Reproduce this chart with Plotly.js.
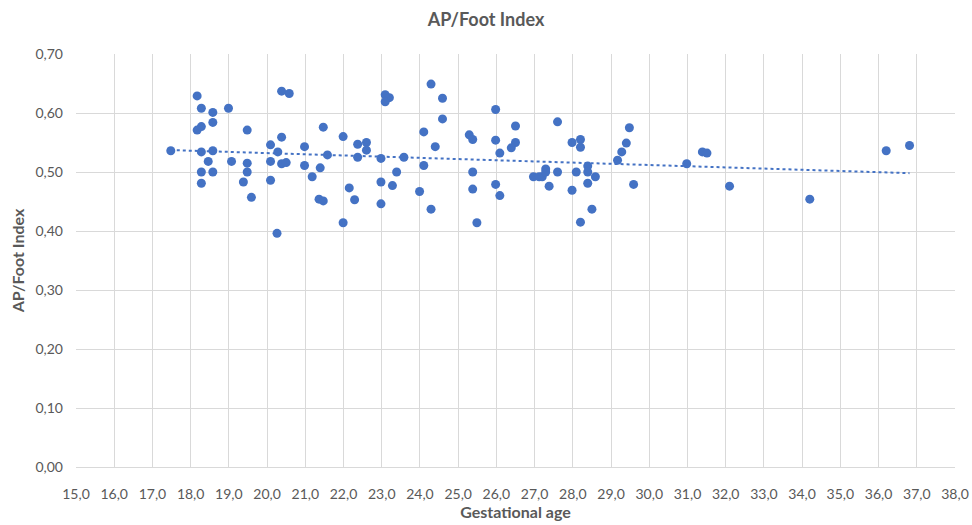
<!DOCTYPE html>
<html>
<head>
<meta charset="utf-8">
<script src="https://cdn.plot.ly/plotly-3.0.1.min.js"></script>
<style>html,body{margin:0;padding:0;background:#fff}#chart{width:972px;height:525px}</style>
</head>
<body>
<div id="chart"></div>
<script>
const gestationalAge = [
  17.48, 18.17, 18.28, 18.58, 18.99, 18.17, 18.28, 18.58, 19.48, 18.28,
  18.58, 18.46, 19.07, 19.48, 18.28, 18.58, 19.48, 18.28, 19.38, 19.59,
  20.09, 20.38, 20.28, 20.09, 20.38, 20.50, 20.09, 20.38, 20.58, 20.26,
  20.98, 21.47, 21.99, 21.58, 20.98, 21.39, 21.18, 21.36, 21.47, 21.99,
  22.15, 22.37, 22.60, 22.60, 22.37, 22.98, 23.58, 23.09, 23.20, 23.09,
  24.29, 24.59, 24.59, 24.10, 24.40, 24.10, 23.39, 22.98, 23.28, 22.29,
  22.98, 23.99, 24.29, 25.29, 25.38, 25.98, 26.50, 25.98, 26.50, 26.39,
  26.09, 25.38, 25.38, 25.98, 26.09, 25.49, 26.97, 27.12, 27.20, 27.29,
  27.29, 27.60, 27.38, 27.60, 27.98, 28.20, 28.20, 28.09, 28.39, 28.39,
  28.59, 28.39, 27.98, 28.50, 28.20, 29.17, 29.28, 29.40, 29.48, 29.59,
  30.98, 31.39, 31.51, 32.10, 34.20, 36.20, 36.81
];
const apFootIndex = [
  0.536, 0.629, 0.608, 0.601, 0.608, 0.571, 0.577, 0.584, 0.571, 0.534,
  0.536, 0.518, 0.518, 0.515, 0.500, 0.500, 0.500, 0.481, 0.483, 0.457,
  0.546, 0.559, 0.534, 0.518, 0.514, 0.516, 0.486, 0.637, 0.633, 0.396,
  0.543, 0.576, 0.560, 0.529, 0.511, 0.507, 0.492, 0.454, 0.451, 0.414,
  0.473, 0.547, 0.550, 0.537, 0.525, 0.523, 0.525, 0.631, 0.626, 0.619,
  0.649, 0.625, 0.590, 0.568, 0.543, 0.511, 0.500, 0.483, 0.477, 0.453,
  0.446, 0.467, 0.437, 0.563, 0.555, 0.606, 0.578, 0.554, 0.550, 0.541,
  0.532, 0.500, 0.471, 0.479, 0.460, 0.414, 0.492, 0.492, 0.492, 0.505,
  0.500, 0.500, 0.476, 0.585, 0.550, 0.555, 0.542, 0.500, 0.510, 0.500,
  0.492, 0.481, 0.469, 0.437, 0.415, 0.520, 0.534, 0.549, 0.575, 0.479,
  0.514, 0.534, 0.532, 0.476, 0.454, 0.536, 0.545
];
const xTicks = [15,16,17,18,19,20,21,22,23,24,25,26,27,28,29,30,31,32,33,34,35,36,37,38];
const yTicks = [0,0.1,0.2,0.3,0.4,0.5,0.6,0.7];

// least-squares linear trendline from the data
const n = gestationalAge.length;
let sx=0, sy=0, sxx=0, sxy=0;
for (let i=0;i<n;i++){const x=gestationalAge[i], y=apFootIndex[i]; sx+=x; sy+=y; sxx+=x*x; sxy+=x*y;}
const slope = (n*sxy - sx*sy)/(n*sxx - sx*sx);
const intercept = (sy - slope*sx)/n;
const xmin = Math.min(...gestationalAge), xmax = Math.max(...gestationalAge);
const trendX = [xmin, xmax];
const trendY = trendX.map(x => intercept + slope*x);

const blue = '#4472C4';
const grey = '#595959';
const font = 'Lato, "Open Sans", sans-serif';

const data = [
  {x: trendX, y: trendY, mode: 'lines', type: 'scatter',
   line: {color: blue, width: 2, dash: 'dot'}, hoverinfo: 'skip', showlegend: false},
  {x: gestationalAge, y: apFootIndex, mode: 'markers', type: 'scatter',
   marker: {color: blue, size: 9}, showlegend: false}
];

const layout = {
  width: 972, height: 525,
  margin: {l: 76, r: 17, t: 54, b: 58},
  paper_bgcolor: '#fff', plot_bgcolor: '#fff',
  separators: ',.',
  font: {family: font, color: grey, size: 14},
  title: {text: '<b>AP/Foot Index</b>', font: {family: font, size: 18, color: grey},
          x: 0.5, xanchor: 'center', y: 0.962, yanchor: 'middle'},
  xaxis: {
    range: [15, 38], tickvals: xTicks, tickformat: '.1f',
    showgrid: true, gridcolor: '#d9d9d9', gridwidth: 1,
    showline: true, linecolor: '#d9d9d9', zeroline: false,
    ticks: '', ticklabelstandoff: 14, tickfont: {size: 14, color: grey},
    title: {text: '<b>Gestational age</b>', font: {size: 16, color: grey}, standoff: 6}
  },
  yaxis: {
    range: [0, 0.7], tickvals: yTicks, tickformat: '.2f',
    showgrid: true, gridcolor: '#d9d9d9', gridwidth: 1,
    showline: false, zeroline: false,
    ticks: '', ticklabelstandoff: 12, tickfont: {size: 14, color: grey},
    title: {text: '<b>AP/Foot Index</b>', font: {size: 16, color: grey}, standoff: 6}
  }
};

Plotly.newPlot('chart', data, layout, {displayModeBar: false, staticPlot: true});
</script>
</body>
</html>
